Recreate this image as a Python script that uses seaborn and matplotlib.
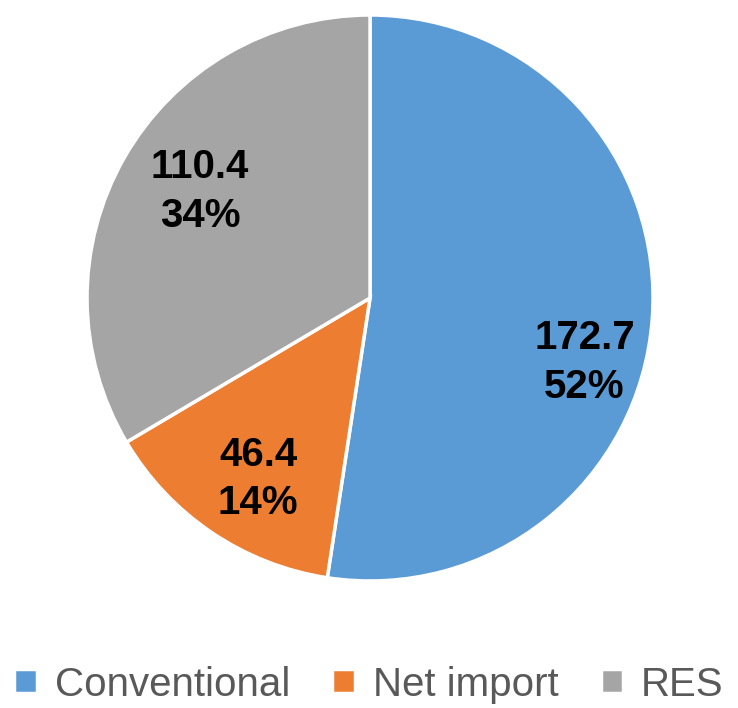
import matplotlib
matplotlib.use('Agg')
import matplotlib.pyplot as plt
import seaborn as sns
import numpy as np

# Data
categories = ['Conventional', 'Net import', 'RES']
values = [172.7, 46.4, 110.4]
colors = ['#5B9BD5', '#ED7D31', '#A5A5A5']

sns.set_theme(style='white')
plt.rcParams['font.family'] = ['Liberation Sans', 'DejaVu Sans']

fig = plt.figure(figsize=(7.38, 7.08), dpi=100)
ax = fig.add_axes([0.1179, 0.1794, 0.767, 0.7994])

total = sum(values)

def fmt(pct):
    v = pct * total / 100
    return f'{v:.1f}\n{pct:.0f}%'

wedges, texts, autotexts = ax.pie(
    values, colors=colors, startangle=90, counterclock=False,
    autopct=fmt, pctdistance=0.76, radius=1,
    wedgeprops=dict(edgecolor='white', linewidth=2.5),
    textprops=dict(fontsize=29, fontweight='bold', color='black', linespacing=1.35))

# small nudges to mimic the spreadsheet's label placement
label_shift = [(0.0, -0.17), (0.03, -0.01), (0.06, 0.0)]
for t, (dx, dy) in zip(autotexts, label_shift):
    x, y = t.get_position()
    t.set_position((x + dx, y + dy))

ax.set_xlim(-1.0, 1.0)
ax.set_ylim(-1.0, 1.0)
ax.set_aspect('equal')

leg = fig.legend(wedges, categories, loc='lower center', bbox_to_anchor=(0.5, -0.045),
                 ncol=3, frameon=False, fontsize=29, handlelength=0.55, handleheight=0.55,
                 handletextpad=0.45, columnspacing=1.05, labelcolor='#595959')

fig.savefig('out.png', dpi=100)
